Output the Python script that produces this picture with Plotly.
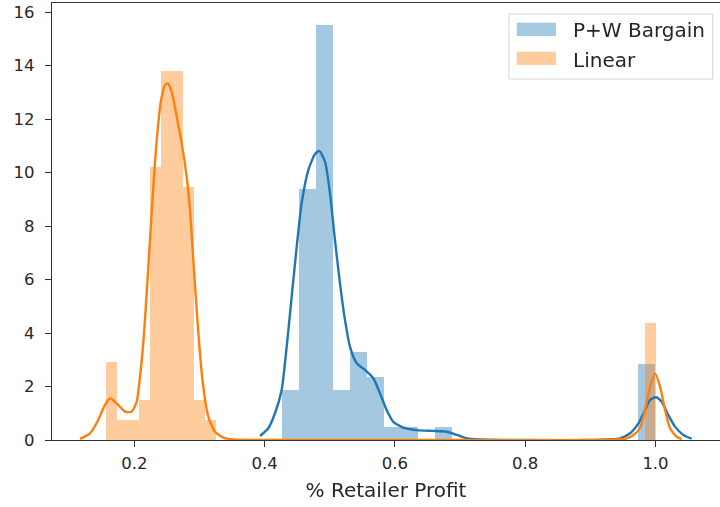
import plotly.graph_objects as go

# ---------------- data ----------------
# Histogram bins (density) -- bin centres and heights
pw_bin_centers = [0.4392, 0.4653, 0.4914, 0.5175, 0.5436, 0.5697, 0.5957, 0.6218, 0.6740, 0.9869]
pw_bin_heights = [1.88, 9.40, 15.50, 1.88, 3.28, 2.36, 0.47, 0.47, 0.47, 2.84]
pw_bin_width = 0.02608

lin_bin_centers = [0.1645, 0.1814, 0.1983, 0.2152, 0.2320, 0.2489, 0.2658, 0.2827, 0.2996, 0.3164, 0.9916]
lin_bin_heights = [2.92, 0.74, 0.74, 1.48, 10.20, 13.80, 13.80, 9.45, 1.48, 0.74, 4.36]
lin_bin_width = 0.01688

# KDE curves
pw_kde_x = [0.3931, 0.4057, 0.4160, 0.4262, 0.4339, 0.4416, 0.4493, 0.4569, 0.4671, 0.4774,
            0.4840, 0.4928, 0.5004, 0.5080, 0.5157, 0.5234, 0.5310, 0.5414, 0.5541, 0.5668,
            0.5771, 0.5874, 0.5975, 0.6129, 0.6334, 0.6590, 0.6795, 0.6950, 0.7107, 0.7307,
            0.8000, 0.9000, 0.9456, 0.9610, 0.9738, 0.9840, 0.9916, 1.0008, 1.0095, 1.0197,
            1.0300, 1.0427, 1.0555]
pw_kde_y = [0.15, 0.44, 1.00, 1.87, 3.49, 5.36, 7.23, 8.85, 10.09, 10.69,
            10.81, 10.40, 9.22, 7.48, 5.86, 4.49, 3.49, 2.87, 2.62, 2.31,
            1.75, 1.12, 0.68, 0.46, 0.37, 0.34, 0.31, 0.19, 0.06, 0.02,
            0.00, 0.00, 0.06, 0.25, 0.62, 1.12, 1.50, 1.60, 1.43, 0.93,
            0.50, 0.19, 0.05]

lin_kde_x = [0.1167, 0.1320, 0.1447, 0.1550, 0.1627, 0.1730, 0.1857, 0.1960, 0.2037, 0.2088,
             0.2138, 0.2190, 0.2241, 0.2292, 0.2344, 0.2410, 0.2471, 0.2513, 0.2574, 0.2651,
             0.2728, 0.2804, 0.2855, 0.2906, 0.2958, 0.3008, 0.3059, 0.3136, 0.3239, 0.3366,
             0.3520, 0.5000, 0.7000, 0.9000, 0.9550, 0.9660, 0.9763, 0.9840, 0.9916, 0.9993,
             1.0070, 1.0147, 1.0223, 1.0326, 1.0403]
lin_kde_y = [0.04, 0.25, 0.75, 1.31, 1.56, 1.37, 1.06, 1.06, 1.43, 2.37,
             3.61, 5.48, 7.48, 9.47, 11.20, 12.70, 13.27, 13.33, 13.02, 12.09,
             11.09, 9.84, 8.60, 6.73, 4.86, 3.24, 1.99, 0.87, 0.31, 0.09,
             0.02, 0.00, 0.00, 0.00, 0.05, 0.19, 0.44, 1.12, 1.99, 2.49,
             1.99, 1.12, 0.44, 0.12, 0.03]

series_names = ["P+W Bargain", "Linear"]
x_ticks = [0.2, 0.4, 0.6, 0.8, 1.0]
y_ticks = [0, 2, 4, 6, 8, 10, 12, 14, 16]

# ---------------- styling ----------------
BLUE = "#1f77b4"
ORANGE = "#ff7f0e"
FONT = "DejaVu Sans"
FS = 16.5
LEG_FS = 20
AXC = "#333333"
TXT = "#262626"

fig = go.Figure()

fig.add_trace(go.Bar(x=pw_bin_centers, y=pw_bin_heights, width=pw_bin_width,
                     marker=dict(color=BLUE, line=dict(width=0)), opacity=0.4,
                     name=series_names[0], showlegend=False, cliponaxis=False))
fig.add_trace(go.Scatter(x=pw_kde_x, y=pw_kde_y, mode="lines",
                         line=dict(color=BLUE, width=2.4, shape="spline", smoothing=0.6),
                         showlegend=False, hoverinfo="skip", cliponaxis=False))
fig.add_trace(go.Bar(x=lin_bin_centers, y=lin_bin_heights, width=lin_bin_width,
                     marker=dict(color=ORANGE, line=dict(width=0)), opacity=0.4,
                     name=series_names[1], showlegend=False, cliponaxis=False))
fig.add_trace(go.Scatter(x=lin_kde_x, y=lin_kde_y, mode="lines",
                         line=dict(color=ORANGE, width=2.4, shape="spline", smoothing=0.6),
                         showlegend=False, hoverinfo="skip", cliponaxis=False))

# custom matplotlib-like legend
shapes = [
    dict(type="rect", xref="paper", yref="paper", x0=0.6841, x1=0.989, y0=0.8261, y1=0.9748,
         line=dict(color="#d6d6d6", width=1), fillcolor="rgba(255,255,255,0.8)", layer="above"),
    dict(type="rect", xref="paper", yref="paper", x0=0.6957, x1=0.7545, y0=0.9245, y1=0.9549,
         line=dict(width=0), fillcolor="rgba(31,119,180,0.4)", layer="above"),
    dict(type="rect", xref="paper", yref="paper", x0=0.6957, x1=0.7545, y0=0.8581, y1=0.8886,
         line=dict(width=0), fillcolor="rgba(255,127,14,0.4)", layer="above"),
]
annotations = [
    dict(text=series_names[0], xref="paper", yref="paper", x=0.777, y=0.9382,
         xanchor="left", yanchor="middle", showarrow=False,
         font=dict(family=FONT, size=LEG_FS, color=TXT)),
    dict(text=series_names[1], xref="paper", yref="paper", x=0.777, y=0.8696,
         xanchor="left", yanchor="middle", showarrow=False,
         font=dict(family=FONT, size=LEG_FS, color=TXT)),
]

fig.update_layout(
    width=720, height=507,
    margin=dict(l=52, r=0, t=3, b=67, autoexpand=False),
    paper_bgcolor="white", plot_bgcolor="white",
    barmode="overlay", bargap=0,
    font=dict(family=FONT, size=FS, color=TXT),
    shapes=shapes, annotations=annotations,
    showlegend=False,
)
fig.update_xaxes(range=[0.0737, 1.099], tickvals=x_ticks, tickformat=".1f",
                 ticks="outside", ticklen=6, tickwidth=1.2, tickcolor=AXC,
                 ticklabelstandoff=2,
                 showline=True, linecolor=AXC, linewidth=1.3, mirror=True,
                 showgrid=False, zeroline=False, automargin=False, layer="below traces",
                 title=dict(text="% Retailer Profit", standoff=11,
                            font=dict(family=FONT, size=LEG_FS, color=TXT)))
fig.update_yaxes(range=[0, 16.34], tickvals=y_ticks,
                 ticks="outside", ticklen=6, tickwidth=1.2, tickcolor=AXC,
                 ticklabelstandoff=7,
                 showline=True, linecolor=AXC, linewidth=1.3, mirror=False,
                 showgrid=False, zeroline=False, automargin=False, layer="below traces")

fig.write_html("out.html", config={"displayModeBar": False},
               post_script="document.body.style.margin='0';")
